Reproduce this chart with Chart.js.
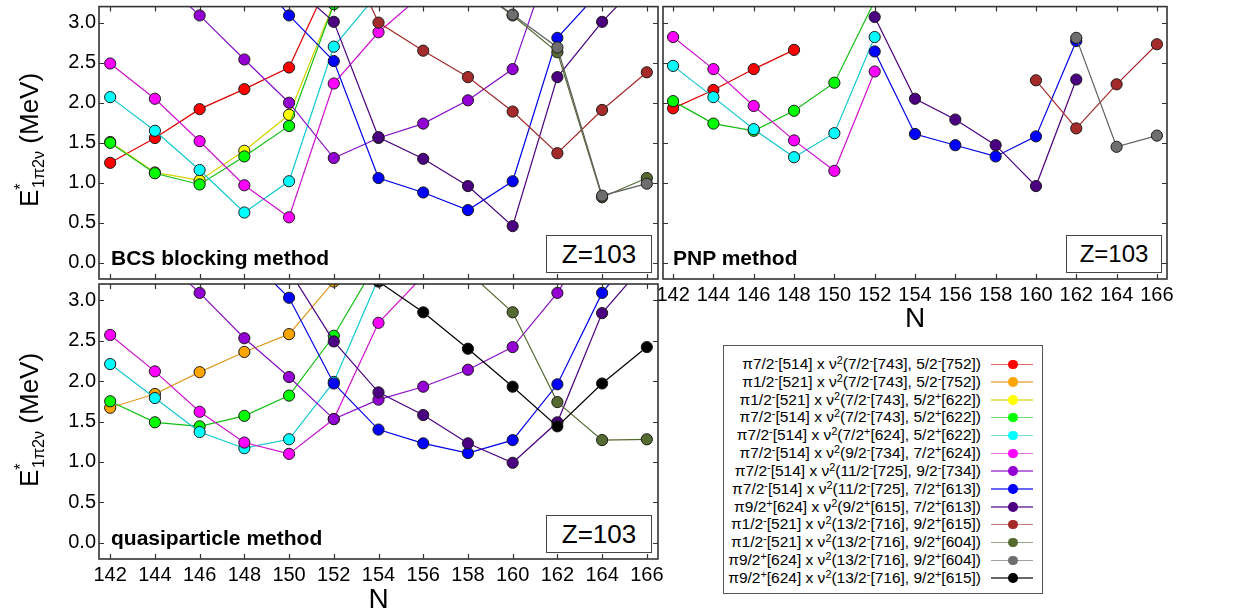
<!DOCTYPE html>
<html><head><meta charset="utf-8">
<script src="https://cdn.jsdelivr.net/npm/chart.js@4/dist/chart.umd.min.js"></script>
<style>
body{margin:0;width:1239px;height:615px;background:#fff;position:relative;overflow:hidden;font-family:"Liberation Sans",Arial,sans-serif;color:#000;}
canvas{position:absolute;left:0;top:0;}
.ytitle{position:absolute;font-size:26px;white-space:nowrap;transform:translate(-50%,-50%) rotate(-90deg);line-height:1;}
.ytitle sup{font-size:0.62em;position:relative;top:-0.15em;vertical-align:super;}
.ytitle sub{font-size:0.62em;margin-left:-0.28em;vertical-align:sub;}
.method{position:absolute;font-weight:bold;font-size:21px;line-height:21px;white-space:nowrap;}
.zbox{position:absolute;border:1px solid #444;background:#fff;display:flex;align-items:center;justify-content:center;box-sizing:border-box;}
#legend{position:absolute;left:723px;top:345px;width:320px;height:249px;border:1px solid #555;box-sizing:border-box;background:#fff;}
.lrow{position:absolute;left:0;width:318px;height:18px;}
.ltext{position:absolute;right:61px;top:0;font-size:15.5px;line-height:18px;white-space:nowrap;}
.ltext sup{font-size:0.7em;vertical-align:0.45em;line-height:0;}
.lline{position:absolute;left:267px;width:42px;top:8.5px;height:1.5px;opacity:0.6;}
.ldot{position:absolute;left:284px;top:4.5px;width:9.5px;height:9.5px;border-radius:50%;}
</style></head>
<body>
<canvas id="c1" width="1239" height="615"></canvas>
<canvas id="c2" width="1239" height="615"></canvas>
<canvas id="c3" width="1239" height="615"></canvas>

<div class="ytitle" style="left:30px;top:140px;">E<sup>*</sup><sub>1π2ν</sub> (MeV)</div>
<div class="ytitle" style="left:30px;top:420px;">E<sup>*</sup><sub>1π2ν</sub> (MeV)</div>

<div class="method" style="left:111px;top:247px;">BCS blocking method</div>
<div class="method" style="left:673px;top:247px;">PNP method</div>
<div class="method" style="left:111px;top:527px;">quasiparticle method</div>

<div class="zbox" style="left:546px;top:235px;width:106px;height:38px;font-size:26px;">Z=103</div>
<div class="zbox" style="left:1066px;top:235px;width:96px;height:38px;font-size:24px;">Z=103</div>
<div class="zbox" style="left:546px;top:515px;width:106px;height:38px;font-size:26px;">Z=103</div>

<div id="legend"></div>

<script>
const _ = null;
const N = [142,144,146,148,150,152,154,156,158,160,162,164,166];
const xTickValues = [142,144,146,148,150,152,154,156,158,160,162,164,166];
const yTickValues = [0,0.5,1.0,1.5,2.0,2.5,3.0];

const seriesNames = [
  "π7/2^-[514] x ν^2(7/2^-[743], 5/2^-[752])",
  "π1/2^-[521] x ν^2(7/2^-[743], 5/2^-[752])",
  "π1/2^-[521] x ν^2(7/2^-[743], 5/2^+[622])",
  "π7/2^-[514] x ν^2(7/2^-[743], 5/2^+[622])",
  "π7/2^-[514] x ν^2(7/2^+[624], 5/2^+[622])",
  "π7/2^-[514] x ν^2(9/2^-[734], 7/2^+[624])",
  "π7/2^-[514] x ν^2(11/2^-[725], 9/2^-[734])",
  "π7/2^-[514] x ν^2(11/2^-[725], 7/2^+[613])",
  "π9/2^+[624] x ν^2(9/2^+[615], 7/2^+[613])",
  "π1/2^-[521] x ν^2(13/2^-[716], 9/2^+[615])",
  "π1/2^-[521] x ν^2(13/2^-[716], 9/2^+[604])",
  "π9/2^+[624] x ν^2(13/2^-[716], 9/2^+[604])",
  "π9/2^+[624] x ν^2(13/2^-[716], 9/2^+[615])"
];
const markerColors = ['#ff0000','#ffa500','#ffff00','#00ff00','#00ffff','#ff00ff','#9400d3','#0000ff','#4b0082','#a52a2a','#556b2f','#6e6e6e','#000000'];
const lineColors   = ['#e00000','#e09a20','#d4d400','#10c010','#10c8d0','#d010d0','#8a10c8','#0000e8','#4b0082','#a52a2a','#556b2f','#606060','#000000'];

// BCS blocking method
const bcsRed     = [1.25,1.56,1.92,2.17,2.44,3.65,_,_,_,_,_,_,_];
const bcsOrange  = [_,_,_,_,_,_,_,_,_,_,_,_,_];
const bcsYellow  = [1.51,1.13,1.03,1.40,1.85,3.24,_,_,_,_,_,_,_];
const bcsGreen   = [1.50,1.12,0.98,1.33,1.71,3.23,_,_,_,_,_,_,_];
const bcsCyan    = [2.07,1.65,1.16,0.63,1.02,2.70,3.37,_,_,_,_,_,_];
const bcsMagenta = [2.49,2.05,1.52,0.97,0.57,2.24,2.88,3.36,_,_,_,_,_];
const bcsPurple  = [_,3.60,3.09,2.54,2.00,1.31,1.56,1.74,2.03,2.42,4.05,_,_];
const bcsBlue    = [_,_,_,3.77,3.09,2.52,1.06,0.88,0.66,1.02,2.81,3.42,_];
const bcsIndigo  = [_,_,_,_,3.50,3.01,1.57,1.30,0.96,0.46,2.32,3.01,3.59];
const bcsBrown   = [_,_,_,_,_,4.20,3.00,2.65,2.32,1.89,1.37,1.91,2.38];
const bcsOlive   = [_,_,_,_,_,_,_,_,3.50,3.09,2.63,0.82,1.06];
const bcsGray    = [_,_,_,_,_,_,_,_,3.50,3.10,2.69,0.84,0.99];
const bcsBlack   = [_,_,_,_,_,_,_,_,_,_,_,_,_];

// PNP method
const pnpRed     = [1.93,2.16,2.42,2.66,_,_,_,_,_,_,_,_,_];
const pnpOrange  = [_,_,_,_,_,_,_,_,_,_,_,_,_];
const pnpYellow  = [_,_,_,_,_,_,_,_,_,_,_,_,_];
const pnpGreen   = [2.02,1.74,1.65,1.90,2.25,3.27,_,_,_,_,_,_,_];
const pnpCyan    = [2.46,2.07,1.67,1.32,1.62,2.82,_,_,_,_,_,_,_];
const pnpMagenta = [2.82,2.42,1.96,1.53,1.15,2.39,_,_,_,_,_,_,_];
const pnpPurple  = [_,_,_,_,_,_,_,_,_,_,_,_,_];
const pnpBlue    = [_,_,_,_,_,2.64,1.61,1.47,1.33,1.58,2.77,_,_];
const pnpIndigo  = [_,_,_,_,_,3.07,2.05,1.79,1.47,0.96,2.29,_,_];
const pnpBrown   = [_,_,_,_,_,_,_,_,_,2.28,1.68,2.23,2.73];
const pnpOlive   = [_,_,_,_,_,_,_,_,_,_,_,_,_];
const pnpGray    = [_,_,_,_,_,_,_,_,_,_,2.81,1.45,1.59];
const pnpBlack   = [_,_,_,_,_,_,_,_,_,_,_,_,_];

// quasiparticle method
const qpRed      = [_,_,_,_,_,_,_,_,_,_,_,_,_];
const qpOrange   = [1.67,1.84,2.11,2.36,2.58,3.23,_,_,_,_,_,_,_];
const qpYellow   = [_,_,_,_,_,_,_,_,_,_,_,_,_];
const qpGreen    = [1.75,1.49,1.44,1.57,1.82,2.56,3.50,_,_,_,_,_,_];
const qpCyan     = [2.21,1.79,1.37,1.17,1.28,1.99,3.27,_,_,_,_,_,_];
const qpMagenta  = [2.57,2.12,1.62,1.24,1.10,1.53,2.72,3.30,_,_,_,_,_];
const qpPurple   = [_,3.60,3.09,2.53,2.05,1.53,1.77,1.93,2.14,2.42,3.09,4.00,_];
const qpBlue     = [_,_,_,3.57,3.03,1.97,1.40,1.23,1.11,1.27,1.96,3.09,3.78];
const qpIndigo   = [_,_,_,_,3.37,2.49,1.86,1.58,1.23,0.99,1.49,2.84,3.48];
const qpBrown    = [_,_,_,_,_,_,_,_,_,_,_,_,_];
const qpOlive    = [_,_,_,_,_,_,_,_,3.35,2.85,1.74,1.27,1.28];
const qpGray     = [_,_,_,_,_,_,_,_,_,_,_,_,_];
const qpBlack    = [_,_,_,_,_,_,3.23,2.85,2.40,1.93,1.44,1.97,2.42];

const bcsSeries = [bcsRed,bcsOrange,bcsYellow,bcsGreen,bcsCyan,bcsMagenta,bcsPurple,bcsBlue,bcsIndigo,bcsBrown,bcsOlive,bcsGray,bcsBlack];
const pnpSeries = [pnpRed,pnpOrange,pnpYellow,pnpGreen,pnpCyan,pnpMagenta,pnpPurple,pnpBlue,pnpIndigo,pnpBrown,pnpOlive,pnpGray,pnpBlack];
const qpSeries  = [qpRed,qpOrange,qpYellow,qpGreen,qpCyan,qpMagenta,qpPurple,qpBlue,qpIndigo,qpBrown,qpOlive,qpGray,qpBlack];

const FONT = "'Liberation Sans', Arial, sans-serif";
Chart.defaults.font.family = FONT;
Chart.defaults.color = '#000';

const framePlugin = {
  id: 'frame',
  afterDatasetsDraw(chart) {
    const {ctx, chartArea: a, scales: {x, y}} = chart;
    ctx.save();
    ctx.strokeStyle = '#333';
    ctx.lineWidth = 1.2;
    ctx.beginPath();
    x.ticks.forEach(t => {
      const px = Math.round(x.getPixelForValue(t.value)) + 0.5;
      ctx.moveTo(px, a.bottom); ctx.lineTo(px, a.bottom - 5);
      ctx.moveTo(px, a.top); ctx.lineTo(px, a.top + 5);
    });
    y.ticks.forEach(t => {
      const py = Math.round(y.getPixelForValue(t.value)) + 0.5;
      ctx.moveTo(a.left, py); ctx.lineTo(a.left + 5, py);
      ctx.moveTo(a.right, py); ctx.lineTo(a.right - 5, py);
    });
    ctx.stroke();
    ctx.lineWidth = 1.6;
    ctx.strokeRect(a.left, a.top, a.right - a.left, a.bottom - a.top);
    ctx.restore();
  }
};

function makeDatasets(series) {
  return series.map((arr, i) => ({
    label: seriesNames[i].replace(/\^/g, ''),
    data: N.map((n, k) => ({x: n, y: arr[k]})).filter(p => p.y !== null),
    borderColor: lineColors[i],
    backgroundColor: markerColors[i],
    pointBackgroundColor: markerColors[i],
    pointBorderColor: '#1a1a1a',
    pointBorderWidth: 1,
    pointRadius: 5.6,
    borderWidth: 1.2,
    tension: 0,
    clip: 0,
    order: -i
  }));
}

function zeroPad(s) { s.paddingTop = 0; s.paddingBottom = 0; s.paddingLeft = 0; s.paddingRight = 0; }

function makeChart(id, series, o) {
  return new Chart(document.getElementById(id), {
    type: 'line',
    data: {datasets: makeDatasets(series)},
    options: {
      responsive: false,
      animation: false,
      events: [],
      layout: {padding: o.padding},
      plugins: {legend: {display: false}, tooltip: {enabled: false}},
      scales: {
        x: {
          type: 'linear', min: 141.5, max: 166.5,
          afterBuildTicks: s => { s.ticks = xTickValues.map(v => ({value: v})); },
          afterFit: s => { s.height = o.xh; zeroPad(s); },
          grid: {display: false, drawTicks: false},
          border: {display: false},
          ticks: {display: o.showX, font: {size: 20, family: FONT}, color: '#000', padding: 4, maxRotation: 0, autoSkip: false, callback: v => String(v)},
          title: {display: o.showX, text: 'N', font: {size: 28, family: FONT, lineHeight: 1}, padding: 0, color: '#000'}
        },
        y: {
          type: 'linear', min: -0.2, max: 3.2,
          afterBuildTicks: s => { s.ticks = yTickValues.map(v => ({value: v})); },
          afterFit: s => { s.width = o.yw; zeroPad(s); },
          grid: {display: false, drawTicks: false},
          border: {display: false},
          ticks: {display: o.showY, font: {size: 20, family: FONT}, color: '#000', padding: 3, callback: v => Number(v).toFixed(1)}
        }
      }
    },
    plugins: [framePlugin]
  });
}

makeChart('c1', bcsSeries, {padding: {left: 0, top: 4, right: 581, bottom: 336}, xh: 0, yw: 99, showX: false, showY: true});
makeChart('c2', pnpSeries, {padding: {left: 663, top: 4, right: 72, bottom: 282}, xh: 54, yw: 0, showX: true, showY: false});
makeChart('c3', qpSeries,  {padding: {left: 0, top: 284, right: 581, bottom: 1}, xh: 55, yw: 99, showX: true, showY: true});

// legend
const legend = document.getElementById('legend');
seriesNames.forEach((name, i) => {
  const row = document.createElement('div');
  row.className = 'lrow';
  row.style.top = (9 + 17.83 * i) + 'px';
  const html = name.replace(/\^(\S)/g, '<sup>$1</sup>');
  row.innerHTML = '<span class="ltext">' + html + '</span>' +
    '<span class="lline" style="background:' + lineColors[i] + '"></span>' +
    '<span class="ldot" style="background:' + markerColors[i] + '"></span>';
  legend.appendChild(row);
});
</script>
</body></html>
